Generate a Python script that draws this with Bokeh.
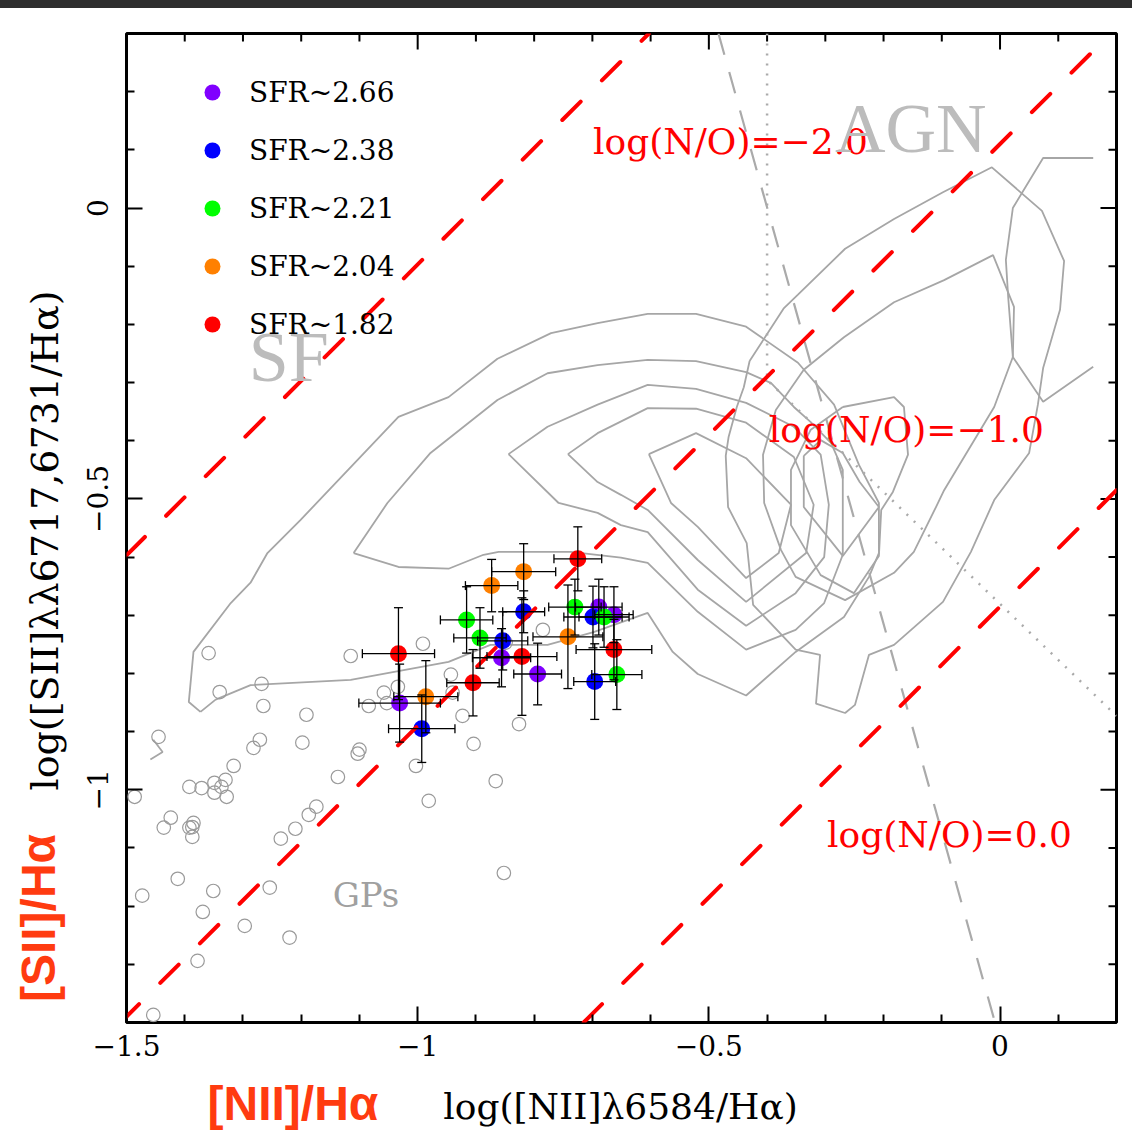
import numpy as np
from bokeh.plotting import figure
from bokeh.models import (ColumnDataSource, Whisker, TeeHead, FixedTicker,
                          Label, Legend, LegendItem, Range1d, Div)
from bokeh.layouts import column, row
from bokeh.embed import file_html
from bokeh.resources import INLINE
from bokeh.core.properties import value

# ---------------- data ----------------
sfr_labels = ["SFR~2.66", "SFR~2.38", "SFR~2.21", "SFR~2.04", "SFR~1.82"]
sfr_colors = ["#8000FF", "#0000FF", "#00FF00", "#FF8000", "#FF0000"]

# log([NII]/Ha), log([SII]/Ha) and errors per SFR bin
purple_n2 = [-1.031, -0.856, -0.794, -0.689, -0.663]
purple_s2 = [-0.851, -0.773, -0.801, -0.686, -0.699]
purple_n2_err = [0.070, 0.050, 0.041, 0.040, 0.033]
purple_s2_err = [0.067, 0.050, 0.053, 0.048, 0.048]

blue_n2 = [-0.993, -0.854, -0.818, -0.699, -0.696]
blue_s2 = [-0.895, -0.744, -0.694, -0.703, -0.814]
blue_n2_err = [0.057, 0.043, 0.036, 0.050, 0.036]
blue_s2_err = [0.058, 0.050, 0.036, 0.053, 0.065]

green_n2 = [-0.916, -0.893, -0.730, -0.680, -0.658]
green_s2 = [-0.708, -0.739, -0.686, -0.703, -0.802]
green_n2_err = [0.045, 0.045, 0.045, 0.043, 0.043]
green_s2_err = [0.057, 0.052, 0.048, 0.052, 0.060]

orange_n2 = [-0.986, -0.873, -0.818, -0.742]
orange_s2 = [-0.840, -0.649, -0.625, -0.737]
orange_n2_err = [0.055, 0.045, 0.055, 0.060]
orange_s2_err = [0.062, 0.045, 0.048, 0.089]

red_n2 = [-1.033, -0.905, -0.821, -0.725, -0.663]
red_s2 = [-0.766, -0.816, -0.771, -0.603, -0.759]
red_n2_err = [0.062, 0.045, 0.060, 0.041, 0.065]
red_s2_err = [0.079, 0.057, 0.101, 0.055, 0.052]

# Green Peas (open grey circles)
gp_n2 = [-1.359, -1.340, -1.268, -1.265, -1.191, -1.115, -0.991, -1.058, -1.034, -1.053,
         -1.084, -1.445, -1.271, -1.282, -1.198, -1.100, -1.103, -1.316, -1.137, -1.003,
         -0.981, -1.486, -1.392, -1.371, -1.349, -1.330, -1.337, -1.349, -1.328, -1.424,
         -1.436, -1.385, -1.387, -1.392, -1.387, -1.174, -1.187, -1.210, -1.235, -1.412,
         -1.351, -1.473, -1.254, -1.369, -1.297, -1.220, -1.378, -1.454, -0.785, -0.943,
         -0.940, -0.923, -0.904, -0.826, -0.866, -0.852, -0.849]
gp_s2 = [-0.765, -0.832, -0.818, -0.856, -0.871, -0.770, -0.749, -0.833, -0.823, -0.851,
         -0.856, -0.909, -0.914, -0.928, -0.919, -0.931, -0.938, -0.959, -0.978, -0.959,
         -1.019, -1.012, -0.995, -0.997, -0.988, -0.983, -0.995, -1.005, -1.012, -1.048,
         -1.065, -1.057, -1.064, -1.065, -1.081, -1.029, -1.043, -1.067, -1.084, -1.153,
         -1.174, -1.182, -1.168, -1.210, -1.234, -1.254, -1.294, -1.387, -0.725, -0.802,
         -0.833, -0.873, -0.921, -0.887, -0.985, -1.143, -0.747]

# SDSS density contours (polygon vertices)
c1_x = [-1.373, -1.393, -1.385, -1.321, -1.287, -1.258, -1.201, -1.033, -0.947, -0.863,
        -0.771, -0.691, -0.605, -0.522, -0.436, -0.347, -0.285, -0.242, -0.208, -0.208,
        -0.225, -0.268, -0.351, -0.436, -0.519, -0.562, -0.605, -0.698, -0.777, -0.875,
        -0.947, -1.115, -1.287, -1.347]
c1_y = [-0.866, -0.849, -0.763, -0.679, -0.644, -0.593, -0.536, -0.359, -0.325, -0.259,
        -0.215, -0.198, -0.182, -0.182, -0.204, -0.266, -0.338, -0.442, -0.507, -0.593,
        -0.634, -0.703, -0.763, -0.838, -0.801, -0.763, -0.696, -0.729, -0.751, -0.751,
        -0.780, -0.811, -0.820, -0.845]
c2_x = [-1.110, -1.052, -0.978, -0.863, -0.777, -0.691, -0.605, -0.522, -0.436, -0.393,
        -0.354, -0.325, -0.290, -0.270, -0.270, -0.270, -0.302, -0.351, -0.436, -0.519,
        -0.605, -0.651, -0.737, -0.861, -0.887, -0.947, -1.033]
c2_y = [-0.593, -0.507, -0.421, -0.330, -0.284, -0.270, -0.261, -0.263, -0.282, -0.301,
        -0.342, -0.368, -0.404, -0.450, -0.510, -0.596, -0.679, -0.725, -0.759, -0.694,
        -0.610, -0.601, -0.591, -0.591, -0.596, -0.620, -0.617]
c3_x = [-0.844, -0.777, -0.691, -0.605, -0.522, -0.436, -0.354, -0.308, -0.294, -0.302,
        -0.351, -0.436, -0.519, -0.605, -0.651, -0.691, -0.758]
c3_y = [-0.423, -0.376, -0.338, -0.304, -0.311, -0.335, -0.376, -0.424, -0.510, -0.600,
        -0.662, -0.718, -0.656, -0.557, -0.545, -0.524, -0.507]
c4_x = [-0.742, -0.691, -0.605, -0.522, -0.436, -0.354, -0.320, -0.333, -0.436, -0.519,
        -0.605, -0.651, -0.691]
c4_y = [-0.423, -0.387, -0.344, -0.345, -0.369, -0.428, -0.510, -0.593, -0.677, -0.605,
        -0.519, -0.493, -0.471]
c5_x = [-0.603, -0.522, -0.436, -0.359, -0.380, -0.436, -0.519, -0.565]
c5_y = [-0.423, -0.387, -0.430, -0.510, -0.593, -0.636, -0.548, -0.507]
a1_x = [-0.430, -0.371, -0.347, -0.266, -0.182, -0.098, -0.014, 0.072, 0.110, 0.103,
        0.074, 0.065, 0.050, -0.010, -0.050, -0.098, -0.182, -0.225, -0.249, -0.266,
        -0.316, -0.309, -0.351, -0.424, -0.435, -0.467, -0.471, -0.466, -0.452, -0.440]
a1_y = [-0.263, -0.172, -0.149, -0.070, -0.019, 0.027, 0.070, -0.005, -0.091, -0.175,
        -0.275, -0.338, -0.421, -0.502, -0.591, -0.677, -0.751, -0.768, -0.854, -0.868,
        -0.852, -0.768, -0.759, -0.682, -0.576, -0.514, -0.426, -0.393, -0.342, -0.308]
a2_x = [-0.337, -0.268, -0.182, -0.096, -0.012, 0.024, 0.022, -0.010, -0.096, -0.110,
        -0.148, -0.182, -0.266, -0.351, -0.376, -0.405, -0.407, -0.385]
a2_y = [-0.278, -0.222, -0.162, -0.124, -0.081, -0.170, -0.256, -0.342, -0.485, -0.514,
        -0.591, -0.627, -0.674, -0.634, -0.588, -0.507, -0.424, -0.347]
a3_x = [-0.270, -0.182, -0.165, -0.158, -0.184, -0.204, -0.208, -0.251, -0.308, -0.359,
        -0.359, -0.325]
a3_y = [-0.342, -0.325, -0.342, -0.424, -0.488, -0.519, -0.598, -0.662, -0.631, -0.545,
        -0.450, -0.381]
a4_x = [-0.337, -0.337, -0.270, -0.208, -0.241, -0.270, -0.308]
a4_y = [-0.426, -0.514, -0.598, -0.514, -0.471, -0.421, -0.399]
# open (clipped) contour pieces
r_x = [0.160, 0.074, 0.022, 0.010, 0.014, 0.022, 0.074, 0.160]
r_y = [0.086, 0.086, 0.000, -0.089, -0.153, -0.256, -0.333, -0.273]
s_x = [-1.459, -1.438, -1.454]
s_y = [-0.948, -0.935, -0.914]

# log(N/O) lines (end points)
no_x = [[-1.5, -0.603], [-1.51, 0.19], [-0.715, 0.2]]
no_y = [[-0.597, 0.3], [-1.40, 0.30], [-1.40, -0.485]]
no_labels = ["log(N/O)=\u22122.0", "log(N/O)=\u22121.0", "log(N/O)=0.0"]
no_label_x = [-0.699, -0.397, -0.297]
no_label_y = [0.115, -0.381, -1.077]

# demarcation lines
kx = [-0.4835, -0.0086]
ky = [0.3, -1.4]
dot_x = [-0.4, -0.4, 0.2]
dot_y = [0.3, -0.2955, -0.873]

X_MIN, X_MAX, Y_MIN, Y_MAX = -1.5, 0.2, -1.4, 0.3
x_major = [-1.5, -1, -0.5, 0]
x_minor = [-1.4, -1.3, -1.2, -1.1, -0.9, -0.8, -0.7, -0.6, -0.4, -0.3, -0.2, -0.1, 0.1]
y_major = [-1, -0.5, 0]
y_minor = [-1.3, -1.2, -1.1, -0.9, -0.8, -0.7, -0.6, -0.4, -0.3, -0.2, -0.1, 0.1, 0.2]
x_tick_labels = {-1.5: "\u22121.5", -1: "\u22121", -0.5: "\u22120.5", 0: "0"}
y_tick_labels = {-1: "\u22121", -0.5: "\u22120.5", 0: "0"}

x_title = "log([NII]\u03bb6584/H\u03b1)"
y_title = "log([SII]\u03bb\u03bb6717,6731/H\u03b1)"
x_tag = "[NII]/H\u03b1"
y_tag = "[SII]/H\u03b1"

SERIF = "DejaVu Serif"
GREY = "#a6a6a6"
TAG_RED = "#FF3B10"

# ---------------- main figure ----------------
p = figure(width=1062, height=1067, x_range=Range1d(X_MIN, X_MAX), y_range=Range1d(Y_MIN, Y_MAX),
           output_backend="svg", toolbar_location=None, title_location=None,
           min_border_left=56, min_border_right=16, min_border_top=25, min_border_bottom=53,
           background_fill_color="white", border_fill_color="white")
p.xgrid.visible = False
p.ygrid.visible = False
p.outline_line_color = "black"
p.outline_line_width = 3

for ax, ticks, minor, labels in ((p.xaxis[0], x_major, x_minor, x_tick_labels),
                                 (p.yaxis[0], y_major, y_minor, y_tick_labels)):
    ax.ticker = FixedTicker(ticks=ticks, minor_ticks=minor)
    ax.axis_line_color = None
    ax.major_tick_in = 16
    ax.major_tick_out = 0
    ax.minor_tick_in = 8
    ax.minor_tick_out = 0
    ax.major_tick_line_width = 2
    ax.minor_tick_line_width = 2
    ax.major_tick_line_color = "black"
    ax.minor_tick_line_color = "black"
    ax.major_label_overrides = labels
    ax.major_label_text_font = SERIF
    ax.major_label_text_font_size = "28px"
    ax.major_label_text_color = "black"
p.xaxis[0].major_label_standoff = 12
p.yaxis[0].major_label_orientation = "vertical"
p.yaxis[0].major_label_standoff = 18

# mirrored ticks on the top and right edges (half of each dash is clipped by the frame)
p.scatter(x_major, [Y_MAX] * len(x_major), marker="dash", angle=np.pi / 2, size=32,
          line_color="black", line_width=2)
p.scatter(x_minor, [Y_MAX] * len(x_minor), marker="dash", angle=np.pi / 2, size=16,
          line_color="black", line_width=2)
p.scatter([X_MAX] * len(y_major), y_major, marker="dash", size=32,
          line_color="black", line_width=2)
p.scatter([X_MAX] * len(y_minor), y_minor, marker="dash", size=16,
          line_color="black", line_width=2)

# contours
cont_x = [c1_x, c2_x, c3_x, c4_x, c5_x, a1_x, a2_x, a3_x, a4_x]
cont_y = [c1_y, c2_y, c3_y, c4_y, c5_y, a1_y, a2_y, a3_y, a4_y]
xs = [cx + cx[:1] for cx in cont_x] + [r_x, s_x]
ys = [cy + cy[:1] for cy in cont_y] + [r_y, s_y]
p.multi_line(xs=xs, ys=ys, line_color=GREY, line_width=1.8)

# demarcation lines
p.line(kx, ky, line_color="#aaaaaa", line_width=2.2, line_dash="22 18")
p.line(dot_x, dot_y, line_color="#aaaaaa", line_width=2.5, line_dash="2 8")

# green peas
p.scatter(gp_n2, gp_s2, marker="circle", size=13.5, fill_color=None,
          line_color="#9a9a9a", line_width=1.2)

# SFR points with error bars
groups = [
    (purple_n2, purple_s2, purple_n2_err, purple_s2_err),
    (blue_n2, blue_s2, blue_n2_err, blue_s2_err),
    (green_n2, green_s2, green_n2_err, green_s2_err),
    (orange_n2, orange_s2, orange_n2_err, orange_s2_err),
    (red_n2, red_s2, red_n2_err, red_s2_err),
]
for (gx, gy, ex, ey) in groups:
    gx = np.array(gx); gy = np.array(gy); ex = np.array(ex); ey = np.array(ey)
    src = ColumnDataSource(dict(x=gx, y=gy, xl=gx - ex, xu=gx + ex, yl=gy - ey, yu=gy + ey))
    for dim, base, lo, up in (("width", "y", "xl", "xu"), ("height", "x", "yl", "yu")):
        p.add_layout(Whisker(source=src, base=base, lower=lo, upper=up, dimension=dim,
                             line_color="black", line_width=1.3, level="glyph",
                             upper_head=TeeHead(size=9, line_color="black", line_width=1.3),
                             lower_head=TeeHead(size=9, line_color="black", line_width=1.3)))
items = []
for (gx, gy, ex, ey), col, lab in zip(groups, sfr_colors, sfr_labels):
    r = p.scatter(gx, gy, marker="circle", size=17, fill_color=col, line_color=None)
    items.append(LegendItem(label=lab, renderers=[r]))

# log(N/O) lines
p.multi_line(xs=no_x, ys=no_y, line_color="#FF0000", line_width=4, line_dash="26 30",
             line_cap="round")

for t, lx, ly in zip(no_labels, no_label_x, no_label_y):
    p.add_layout(Label(x=lx, y=ly, text=t, text_font=SERIF, text_font_size="36px",
                       text_color="#FF0000", text_baseline="alphabetic", text_align="left"))

# region names
p.add_layout(Label(x=-0.2835, y=0.136, text="AGN", text_font="Liberation Serif",
                   text_font_size="70px", text_color="#bcbcbc", text_baseline="alphabetic"))
p.add_layout(Label(x=-1.290, y=-0.256, text="SF", text_font="Liberation Serif",
                   text_font_size="72px", text_color="#bcbcbc", text_baseline="alphabetic"))
p.add_layout(Label(x=-1.146, y=-1.180, text="GPs", text_font=SERIF,
                   text_font_size="34px", text_color="#a0a0a0", text_baseline="alphabetic"))

legend = Legend(items=items, location=(66, 678), orientation="vertical",
                glyph_width=40, glyph_height=40, label_height=40, spacing=18,
                label_standoff=17, padding=0, margin=0,
                label_text_font=SERIF, label_text_font_size="28px",
                label_text_color="black", border_line_color=None,
                background_fill_alpha=0)
p.add_layout(legend)

# ---------------- side panels holding the axis titles ----------------
# left panel: page-pixel coordinates (x 0..70, y 8..1075 downwards)
left = figure(width=70, height=1067, x_range=Range1d(0, 70), y_range=Range1d(1075, 8),
              output_backend="svg", toolbar_location=None, title_location=None,
              x_axis_location=None, y_axis_location=None, min_border=0,
              outline_line_color=None, background_fill_color="white",
              border_fill_color="white")
left.xgrid.visible = False
left.ygrid.visible = False
left.text(x=[44], y=[555], text=[y_title], angle=np.pi / 2, text_font=value(SERIF),
          text_font_size="38px", text_color="black", text_align="center",
          text_baseline="alphabetic")
left.text(x=[38], y=[1053], text=[y_tag], angle=np.pi / 2, text_font=value("Liberation Sans"),
          text_font_style="bold", text_font_size="48px", text_color=TAG_RED,
          text_align="left", text_baseline="alphabetic")

# bottom panel: page-pixel coordinates (x 0..1132, y 1075..1133 downwards)
bottom = figure(width=1132, height=58, x_range=Range1d(0, 1132), y_range=Range1d(1133, 1075),
                output_backend="svg", toolbar_location=None, title_location=None,
                x_axis_location=None, y_axis_location=None, min_border=0,
                outline_line_color=None, background_fill_color="white",
                border_fill_color="white")
bottom.xgrid.visible = False
bottom.ygrid.visible = False
bottom.text(x=[620], y=[1106], text=[x_title], text_font=value(SERIF),
            text_font_size="36px", text_color="black", text_align="center",
            text_baseline="alphabetic")
bottom.text(x=[207], y=[1103], text=[x_tag], text_font=value("Liberation Sans"),
            text_font_style="bold", text_font_size="48px", text_color=TAG_RED,
            text_align="left", text_baseline="alphabetic")

strip = Div(text="", width=1132, height=8, styles={"background-color": "#2e2e2e"}, margin=0)
layout = column(strip, row(left, p, spacing=0), bottom, spacing=0)

open("out.html", "w").write(file_html(layout, INLINE))
